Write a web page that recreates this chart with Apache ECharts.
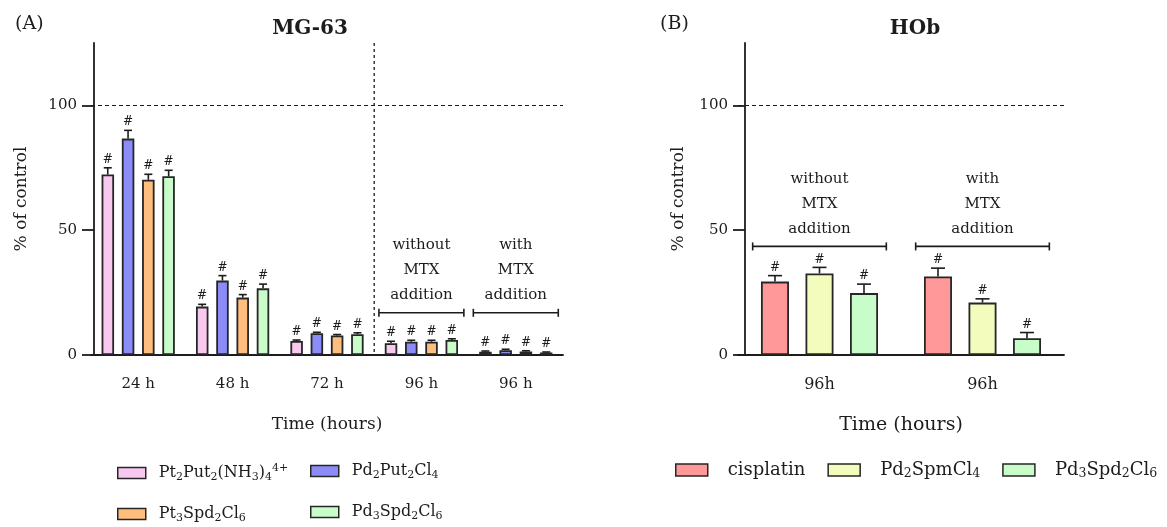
<!DOCTYPE html>
<html>
<head>
<meta charset="utf-8">
<script src="https://cdn.jsdelivr.net/npm/echarts@6/dist/echarts.min.js"></script>
<style>
  html, body { margin: 0; padding: 0; background: #fff; }
  #main { width: 1167px; height: 527px; }
</style>
</head>
<body>
<div id="main"></div>
<script>
// MG-63 panel (A)
const mgCategories = ['24 h', '48 h', '72 h', '96 h', '96 h'];
const mgPt2Put2 = [72.3, 19.4, 5.6, 4.7, 1.3];
const mgPt2Put2Err = [2.7, 0.9, 0.4, 0.8, 0.3];
const mgPd2Put2 = [86.7, 29.8, 8.7, 5.3, 1.9];
const mgPd2Put2Err = [3.3, 2.0, 0.4, 0.6, 0.4];
const mgPt3Spd2 = [70.2, 23.0, 7.8, 5.3, 1.4];
const mgPt3Spd2Err = [2.2, 1.2, 0.4, 0.6, 0.3];
const mgPd3Spd2 = [71.6, 26.7, 8.3, 6.0, 1.0];
const mgPd3Spd2Err = [2.4, 1.7, 0.6, 0.5, 0.2];
const mgBracketCats = [3, 4];
const mgBracketLevel = 16.9;
const mgSeparatorAfter = 2;

// HOb panel (B)
const hobCategories = ['96h', '96h'];
const hobCisplatin = [29.4, 31.5];
const hobCisplatinErr = [2.4, 3.3];
const hobPd2Spm = [32.7, 21.0];
const hobPd2SpmErr = [2.4, 1.5];
const hobPd3Spd2 = [24.8, 6.7];
const hobPd3Spd2Err = [3.6, 2.3];
const hobBracketCats = [0, 1];
const hobBracketLevel = 43.5;

const yTicks = [0, 50, 100];
const yMax = 125;
const controlLevel = 100;
const groupNotes = ['without\nMTX\naddition', 'with\nMTX\naddition'];

const legendLabels = {
  mgPt2Put2: '{g| }{n|Pt}{s|2}{n|Put}{s|2}{n|(NH}{s|3}{n|)}{s|4}{p|4+}',
  mgPd2Put2: '{g| }{n|Pd}{s|2}{n|Put}{s|2}{n|Cl}{s|4}',
  mgPt3Spd2: '{g| }{n|Pt}{s|3}{n|Spd}{s|2}{n|Cl}{s|6}',
  mgPd3Spd2: '{g| }{n|Pd}{s|3}{n|Spd}{s|2}{n|Cl}{s|6}',
  hobCis: '{g| }{n|cisplatin}',
  hobPd2Spm: '{g| }{n|Pd}{s|2}{n|SpmCl}{s|4}',
  hobPd3Spd2: '{g| }{n|Pd}{s|3}{n|Spd}{s|2}{n|Cl}{s|6}'
};

const FONT = 'DejaVu Serif';
const INK = '#1c1c1c';
const colors = {
  pink: '#f9c8ef', blue: '#8c8cf8', orange: '#ffbe7e', green: '#c8fcc8',
  red: '#ff9999', yellow: '#f3fbbd'
};

let chart = echarts.init(document.getElementById('main'));

function barSeries(name, axis, data, color, width, gap) {
  return {
    type: 'bar', name: name, xAxisIndex: axis, yAxisIndex: axis,
    data: data, barWidth: width, barGap: gap, silent: true,
    itemStyle: { color: color, borderColor: '#262626', borderWidth: 1.8 }
  };
}

function errorSeries(axis, values, errs, idx, n, step, cap) {
  return {
    type: 'custom', xAxisIndex: axis, yAxisIndex: axis, silent: true, z: 5,
    data: values.map((v, i) => [i, v, v + errs[i]]),
    renderItem: function (params, api) {
      const top = api.coord([api.value(0), api.value(2)]);
      const base = api.coord([api.value(0), api.value(1)]);
      const x = top[0] + (idx - (n - 1) / 2) * step;
      const st = { stroke: INK, lineWidth: 1.6 };
      return {
        type: 'group', children: [
          { type: 'line', shape: { x1: x, y1: base[1], x2: x, y2: top[1] }, style: st },
          { type: 'line', shape: { x1: x - cap, y1: top[1], x2: x + cap, y2: top[1] }, style: st },
          { type: 'text', x: x, y: top[1] - 2,
            style: { text: '#', fontFamily: FONT, fontSize: 12, fill: INK, align: 'center', verticalAlign: 'bottom' } }
        ]
      };
    }
  };
}

function bracketSeries(axis, cats, level, half) {
  return {
    type: 'custom', xAxisIndex: axis, yAxisIndex: axis, silent: true, z: 4,
    data: cats.map((c, i) => [c, level, i]),
    renderItem: function (params, api) {
      const p = api.coord([api.value(0), api.value(1)]);
      const w = api.size([1, 0])[0] * half;
      const st = { stroke: INK, lineWidth: 1.6 };
      return {
        type: 'group', children: [
          { type: 'line', shape: { x1: p[0] - w, y1: p[1], x2: p[0] + w, y2: p[1] }, style: st },
          { type: 'line', shape: { x1: p[0] - w, y1: p[1] - 4, x2: p[0] - w, y2: p[1] + 4 }, style: st },
          { type: 'line', shape: { x1: p[0] + w, y1: p[1] - 4, x2: p[0] + w, y2: p[1] + 4 }, style: st },
          { type: 'text', x: p[0], y: p[1] - 5,
            style: { text: groupNotes[api.value(2)], fontFamily: FONT, fontSize: 15, lineHeight: 25,
                     fill: INK, align: 'center', verticalAlign: 'bottom' } }
        ]
      };
    }
  };
}

// vertical dotted divider between 72 h and the 96 h groups
const separatorSeries = {
  type: 'custom', xAxisIndex: 0, yAxisIndex: 0, silent: true, z: 3,
  data: [[mgSeparatorAfter, yMax]],
  renderItem: function (params, api) {
    const top = api.coord([api.value(0), api.value(1)]);
    const bottom = api.coord([api.value(0), 0]);
    const x = top[0] + api.size([1, 0])[0] / 2;
    return { type: 'line', shape: { x1: x, y1: top[1], x2: x, y2: bottom[1] },
             style: { stroke: INK, lineWidth: 1.3, lineDash: [3, 3] } };
  }
};

const controlLine = {
  silent: true, symbol: 'none', label: { show: false },
  lineStyle: { color: INK, width: 1.2, type: [4, 3] },
  data: [{ yAxis: controlLevel }]
};

function xAxisCfg(grid, cats, nameSize, labelSize) {
  return {
    type: 'category', gridIndex: grid, data: cats,
    name: 'Time (hours)', nameLocation: 'middle', nameGap: 61,
    nameTextStyle: { fontFamily: FONT, fontSize: nameSize, color: INK },
    axisLine: { lineStyle: { color: INK, width: 1.8 } },
    axisTick: { alignWithLabel: true, length: 11, lineStyle: { color: INK, width: 1.8 } },
    axisLabel: { fontFamily: FONT, fontSize: labelSize, color: INK, margin: 22 }
  };
}

function yAxisCfg(grid, offset, gap) {
  return {
    type: 'value', gridIndex: grid, min: 0, max: yMax, offset: offset,
    name: '% of control', nameLocation: 'middle', nameGap: gap, nameRotate: 90,
    nameTextStyle: { fontFamily: FONT, fontSize: 17, color: INK },
    splitLine: { show: false },
    axisLine: { show: true, lineStyle: { color: INK, width: 1.8 } },
    axisTick: { show: true, length: 12, customValues: yTicks, lineStyle: { color: INK, width: 1.8 } },
    axisLabel: { fontFamily: FONT, fontSize: 15, color: INK, margin: 17, customValues: yTicks }
  };
}

function legendCfg(size, sub, spacer, extra) {
  return Object.assign({
    icon: 'rect', itemWidth: 28, itemHeight: 11, selectedMode: false, padding: 0,
    itemStyle: { borderColor: '#262626', borderWidth: 1.5 },
    formatter: function (name) { return legendLabels[name]; },
    textStyle: {
      fontFamily: FONT, color: INK,
      rich: {
        g: { width: spacer },
        n: { fontFamily: FONT, fontSize: size, lineHeight: 20, color: INK },
        s: { fontFamily: FONT, fontSize: sub, lineHeight: sub, verticalAlign: 'bottom', color: INK },
        p: { fontFamily: FONT, fontSize: sub, lineHeight: sub, verticalAlign: 'top', color: INK }
      }
    }
  }, extra);
}

chart.setOption({
  animation: false,
  backgroundColor: '#fff',
  title: [
    { text: '(A)', left: 10, top: 10, textStyle: { fontFamily: FONT, fontSize: 19, fontWeight: 'normal', color: INK } },
    { text: 'MG-63', left: 305, top: 14, textAlign: 'center', textStyle: { fontFamily: FONT, fontSize: 20, fontWeight: 'bold', color: INK } },
    { text: '(B)', left: 655, top: 10, textStyle: { fontFamily: FONT, fontSize: 19, fontWeight: 'normal', color: INK } },
    { text: 'HOb', left: 910, top: 14, textAlign: 'center', textStyle: { fontFamily: FONT, fontSize: 20, fontWeight: 'bold', color: INK } }
  ],
  grid: [
    { left: 91, top: 43, width: 472, height: 312 },
    { left: 738, top: 43, width: 326, height: 312 }
  ],
  xAxis: [xAxisCfg(0, mgCategories, 17, 15), xAxisCfg(1, hobCategories, 19, 16)],
  yAxis: [yAxisCfg(0, -3, 64), yAxisCfg(1, -7, 58)],
  legend: [
    legendCfg(16, 11, 8, { data: ['mgPt2Put2', 'mgPt3Spd2'], orient: 'vertical', left: 117, top: 463, height: 64, itemGap: 23 }),
    legendCfg(16, 11, 8, { data: ['mgPd2Put2', 'mgPd3Spd2'], orient: 'vertical', left: 310, top: 463, height: 64, itemGap: 23 }),
    legendCfg(18, 12.5, 15, { data: ['hobCis', 'hobPd2Spm', 'hobPd3Spd2'], orient: 'horizontal', left: 675, top: 461,
                              itemGap: 22, itemWidth: 32, itemHeight: 12 })
  ],
  series: [
    Object.assign(barSeries('mgPt2Put2', 0, mgPt2Put2, colors.pink, 12.5, '62%'), { markLine: controlLine }),
    barSeries('mgPd2Put2', 0, mgPd2Put2, colors.blue, 12.5, '62%'),
    barSeries('mgPt3Spd2', 0, mgPt3Spd2, colors.orange, 12.5, '62%'),
    barSeries('mgPd3Spd2', 0, mgPd3Spd2, colors.green, 12.5, '62%'),
    errorSeries(0, mgPt2Put2, mgPt2Put2Err, 0, 4, 20.3, 4),
    errorSeries(0, mgPd2Put2, mgPd2Put2Err, 1, 4, 20.3, 4),
    errorSeries(0, mgPt3Spd2, mgPt3Spd2Err, 2, 4, 20.3, 4),
    errorSeries(0, mgPd3Spd2, mgPd3Spd2Err, 3, 4, 20.3, 4),
    bracketSeries(0, mgBracketCats, mgBracketLevel, 0.45),
    separatorSeries,
    Object.assign(barSeries('hobCis', 1, hobCisplatin, colors.red, 28, '59%'), { markLine: controlLine }),
    barSeries('hobPd2Spm', 1, hobPd2Spm, colors.yellow, 28, '59%'),
    barSeries('hobPd3Spd2', 1, hobPd3Spd2, colors.green, 28, '59%'),
    errorSeries(1, hobCisplatin, hobCisplatinErr, 0, 3, 44.5, 7),
    errorSeries(1, hobPd2Spm, hobPd2SpmErr, 1, 3, 44.5, 7),
    errorSeries(1, hobPd3Spd2, hobPd3Spd2Err, 2, 3, 44.5, 7),
    bracketSeries(1, hobBracketCats, hobBracketLevel, 0.41)
  ]
});
</script>
</body>
</html>
